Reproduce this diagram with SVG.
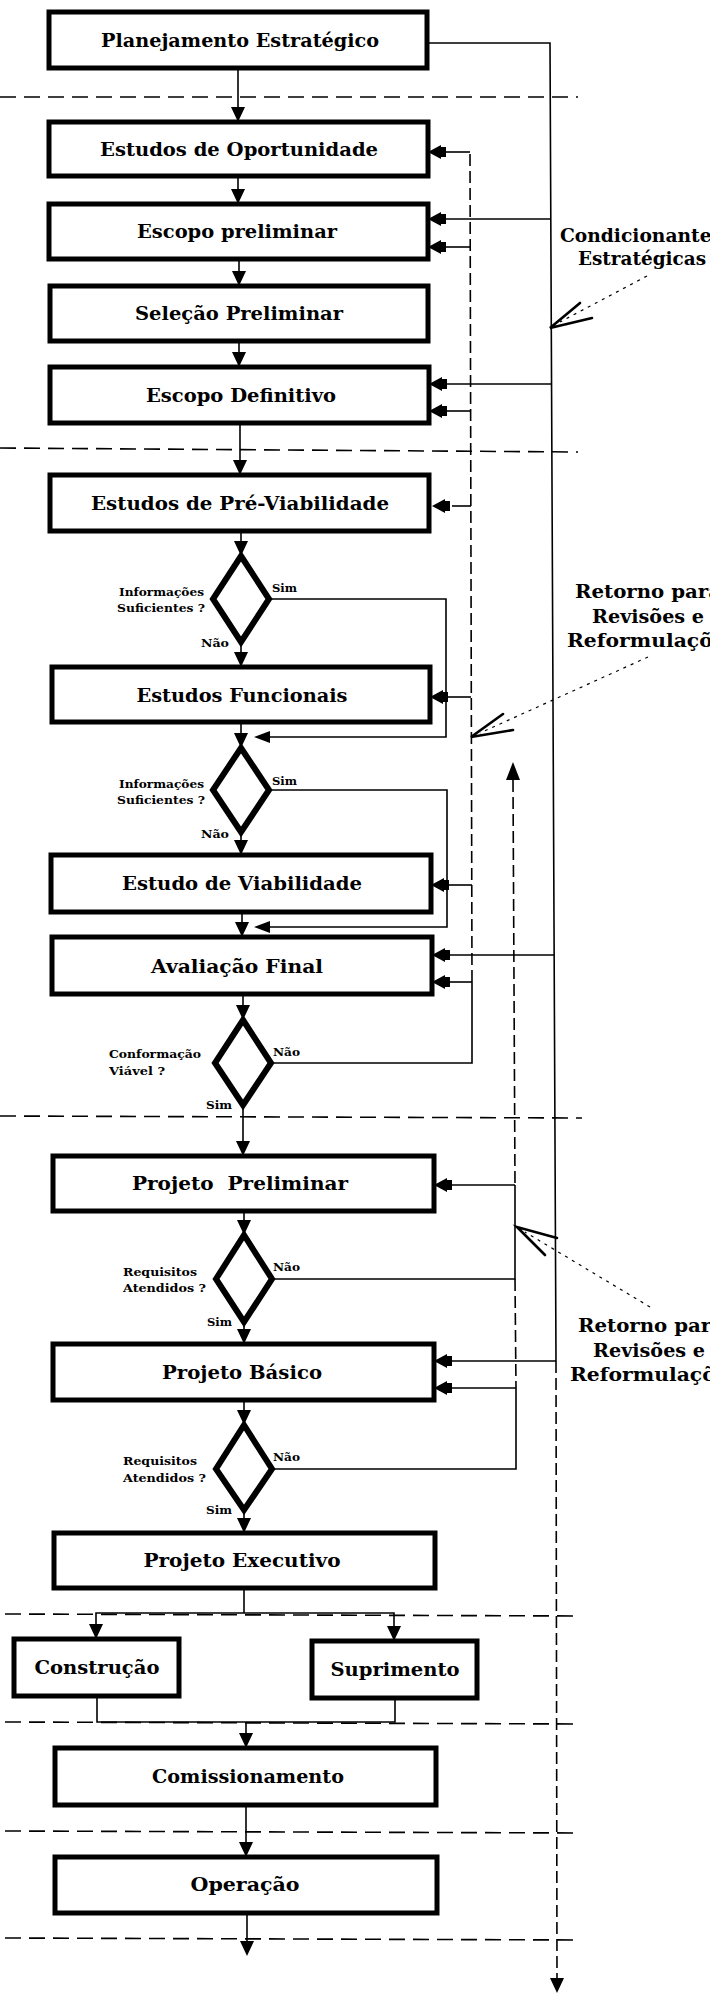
<svg xmlns="http://www.w3.org/2000/svg" xmlns:xlink="http://www.w3.org/1999/xlink" width="710" height="1994" viewBox="0 0 710 1994">
  <style>
    .box { fill: #fff; stroke: #000; stroke-width: 5; }
    .dia { fill: #fff; stroke: #000; stroke-width: 6; stroke-linejoin: miter; }
    .lbl { font-family: "DejaVu Serif", "Liberation Serif", serif; font-weight: bold; font-size: 18px; fill: #000; text-anchor: middle; }
    .sm { font-family: "DejaVu Serif", "Liberation Serif", serif; font-weight: bold; font-size: 11px; fill: #000; }
    .note { font-family: "DejaVu Serif", "Liberation Serif", serif; font-weight: bold; font-size: 19px; fill: #000; }
    .ln { fill: none; stroke: #000; stroke-width: 1.6; }
    .dl { fill: none; stroke: #000; stroke-width: 1.6; stroke-dasharray: 12 5; }
    .sep { fill: none; stroke: #000; stroke-width: 1.6; stroke-dasharray: 16 8; }
    .dot { fill: none; stroke: #000; stroke-width: 1.2; stroke-dasharray: 3 5; }
    .open { fill: none; stroke: #000; stroke-width: 2.6; stroke-linecap: round; }
  </style>
  <defs>
    <!-- arrowhead entering a box from the right -->
    <path id="ahL" d="M0,0 L13,-7 L13,7 Z M12,-5 h6 v10 h-6 Z" fill="#000"/>
    <!-- plain left arrowhead -->
    <path id="ahl" d="M0,0 L16,-6 L16,6 Z" fill="#000"/>
    <!-- downward arrowhead -->
    <path id="ahD" d="M0,0 L-7,-15 L7,-15 Z" fill="#000"/>
    <!-- upward arrowhead -->
    <path id="ahU" d="M0,0 L-7,18 L7,18 Z" fill="#000"/>
  </defs>

  <rect width="710" height="1994" fill="#fff"/>

  <!-- phase separators -->
  <g id="separators">
    <line class="sep" x1="0" y1="97" x2="578" y2="97"/>
    <line class="sep" x1="0" y1="448" x2="578" y2="452"/>
    <line class="sep" x1="0" y1="1116" x2="582" y2="1118"/>
    <line class="sep" x1="5" y1="1614" x2="580" y2="1616"/>
    <line class="sep" x1="5" y1="1722" x2="580" y2="1724"/>
    <line class="sep" x1="5" y1="1831" x2="580" y2="1833"/>
    <line class="sep" x1="5" y1="1938" x2="580" y2="1940"/>
  </g>

  <g id="connectors">
    <!-- main flow -->
    <line class="ln" x1="238" y1="68" x2="238" y2="110"/>
    <use href="#ahD" x="238" y="122"/>
    <line class="ln" x1="238" y1="176" x2="238" y2="192"/>
    <use href="#ahD" x="238" y="204"/>
    <line class="ln" x1="239" y1="259" x2="239" y2="274"/>
    <use href="#ahD" x="239" y="286"/>
    <line class="ln" x1="239" y1="341" x2="239" y2="355"/>
    <use href="#ahD" x="239" y="367"/>
    <line class="ln" x1="240" y1="423" x2="240" y2="463"/>
    <use href="#ahD" x="240" y="475"/>
    <line class="ln" x1="241" y1="531" x2="241" y2="545"/>
    <use href="#ahD" x="241" y="556"/>
    <line class="ln" x1="241" y1="642" x2="241" y2="655"/>
    <use href="#ahD" x="241" y="667"/>
    <line class="ln" x1="241" y1="722" x2="241" y2="737"/>
    <use href="#ahD" x="241" y="748"/>
    <line class="ln" x1="241" y1="832" x2="241" y2="843"/>
    <use href="#ahD" x="241" y="855"/>
    <line class="ln" x1="242" y1="912" x2="242" y2="925"/>
    <use href="#ahD" x="242" y="937"/>
    <line class="ln" x1="243" y1="994" x2="243" y2="1009"/>
    <use href="#ahD" x="243" y="1020"/>
    <line class="ln" x1="243" y1="1105" x2="243" y2="1144"/>
    <use href="#ahD" x="243" y="1156"/>
    <line class="ln" x1="244" y1="1211" x2="244" y2="1224"/>
    <use href="#ahD" x="244" y="1235"/>
    <line class="ln" x1="244" y1="1322" x2="244" y2="1332"/>
    <use href="#ahD" x="244" y="1344"/>
    <line class="ln" x1="244" y1="1400" x2="244" y2="1414"/>
    <use href="#ahD" x="244" y="1425"/>
    <line class="ln" x1="244" y1="1510" x2="244" y2="1521"/>
    <use href="#ahD" x="244" y="1533"/>
    <!-- split to construction and supply -->
    <polyline class="ln" points="244,1588 244,1613"/>
    <polyline class="ln" points="96,1627 96,1613 394,1613 394,1629"/>
    <use href="#ahD" x="96" y="1639"/>
    <use href="#ahD" x="394" y="1641"/>
    <!-- join to commissioning -->
    <polyline class="ln" points="97,1696 97,1722 395,1722 395,1698"/>
    <line class="ln" x1="246" y1="1722" x2="246" y2="1736"/>
    <use href="#ahD" x="246" y="1748"/>
    <line class="ln" x1="246" y1="1805" x2="246" y2="1845"/>
    <use href="#ahD" x="246" y="1857"/>
    <line class="ln" x1="247" y1="1913" x2="247" y2="1942"/>
    <use href="#ahD" x="247" y="1956"/>

    <!-- decision 1 "Sim" bypass -->
    <polyline class="ln" points="270,599 446,599 446,737 268,737"/>
    <use href="#ahl" x="254" y="737"/>
    <!-- decision 2 "Sim" bypass -->
    <polyline class="ln" points="270,790 447,790 447,927 268,927"/>
    <use href="#ahl" x="254" y="927"/>

    <!-- strategic constraints line -->
    <polyline class="ln" points="427,43 550,43 556,1361"/>
    <line class="dl" x1="556" y1="1361" x2="557" y2="1978"/>
    <use href="#ahD" x="557" y="1993"/>
    <line class="ln" x1="446" y1="219" x2="551" y2="219"/>
    <use href="#ahL" x="428" y="219"/>
    <line class="ln" x1="447" y1="384" x2="551" y2="384"/>
    <use href="#ahL" x="429" y="384"/>
    <line class="ln" x1="450" y1="955" x2="554" y2="955"/>
    <use href="#ahL" x="432" y="955"/>
    <line class="ln" x1="452" y1="1361" x2="556" y2="1361"/>
    <use href="#ahL" x="434" y="1361"/>

    <!-- return loop, study phases -->
    <polyline class="ln" points="272,1063 472,1063 472,982"/>
    <line class="dl" x1="472" y1="982" x2="470" y2="152"/>
    <line class="ln" x1="446" y1="152" x2="470" y2="152"/>
    <use href="#ahL" x="428" y="152"/>
    <line class="ln" x1="446" y1="247" x2="470" y2="247"/>
    <use href="#ahL" x="428" y="247"/>
    <line class="ln" x1="447" y1="411" x2="470" y2="411"/>
    <use href="#ahL" x="429" y="411"/>
    <line class="ln" x1="452" y1="506" x2="471" y2="506"/>
    <use href="#ahL" x="432" y="506"/>
    <line class="ln" x1="448" y1="697" x2="471" y2="697"/>
    <use href="#ahL" x="430" y="697"/>
    <line class="ln" x1="449" y1="885" x2="472" y2="885"/>
    <use href="#ahL" x="431" y="885"/>
    <line class="ln" x1="450" y1="982" x2="472" y2="982"/>
    <use href="#ahL" x="432" y="982"/>

    <!-- return loop, design phases -->
    <use href="#ahU" x="513" y="762"/>
    <line class="dl" x1="513" y1="780" x2="515" y2="1185"/>
    <polyline class="ln" points="515,1185 515,1279 273,1279"/>
    <line class="ln" x1="452" y1="1185" x2="515" y2="1185"/>
    <use href="#ahL" x="434" y="1185"/>
    <line class="dl" x1="515" y1="1279" x2="516" y2="1388"/>
    <polyline class="ln" points="516,1388 516,1469 273,1469"/>
    <line class="ln" x1="452" y1="1388" x2="516" y2="1388"/>
    <use href="#ahL" x="434" y="1388"/>
  </g>

  <g id="pointers">
    <!-- Condicionantes pointer -->
    <line class="dot" x1="647" y1="276" x2="560" y2="322"/>
    <polyline class="open" points="580,303 550,328 592,318"/>
    <!-- upper return pointer -->
    <line class="dot" x1="648" y1="657" x2="480" y2="733"/>
    <polyline class="open" points="503,714 471,737 513,730"/>
    <!-- lower return pointer -->
    <line class="dot" x1="650" y1="1307" x2="525" y2="1232"/>
    <polyline class="open" points="557,1238 517,1227 545,1255"/>
  </g>

  <g id="n-planejamento">
    <rect class="box" x="49" y="12" width="378" height="56"/>
    <text class="lbl" x="240" y="47" textLength="278" lengthAdjust="spacingAndGlyphs">Planejamento Estratégico</text>
  </g>
  <g id="n-oportunidade">
    <rect class="box" x="49" y="122" width="379" height="54"/>
    <text class="lbl" x="239" y="156" textLength="278" lengthAdjust="spacingAndGlyphs">Estudos de Oportunidade</text>
  </g>
  <g id="n-escopo-preliminar">
    <rect class="box" x="49" y="204" width="379" height="55"/>
    <text class="lbl" x="237" y="238" textLength="200" lengthAdjust="spacingAndGlyphs">Escopo preliminar</text>
  </g>
  <g id="n-selecao">
    <rect class="box" x="50" y="286" width="378" height="55"/>
    <text class="lbl" x="239" y="320" textLength="208" lengthAdjust="spacingAndGlyphs">Seleção Preliminar</text>
  </g>
  <g id="n-escopo-definitivo">
    <rect class="box" x="50" y="367" width="379" height="56"/>
    <text class="lbl" x="241" y="402" textLength="190" lengthAdjust="spacingAndGlyphs">Escopo Definitivo</text>
  </g>
  <g id="n-pre-viabilidade">
    <rect class="box" x="50" y="475" width="379" height="56"/>
    <text class="lbl" x="240" y="510" textLength="298" lengthAdjust="spacingAndGlyphs">Estudos de Pré-Viabilidade</text>
  </g>
  <g id="d-informacoes-1">
    <polygon class="dia" points="241,556 269,599 241,642 213,599"/>
    <text class="sm" x="119" y="596" textLength="85" lengthAdjust="spacingAndGlyphs">Informações</text>
    <text class="sm" x="117" y="612" textLength="88" lengthAdjust="spacingAndGlyphs">Suficientes ?</text>
    <text class="sm" x="272" y="592" textLength="25" lengthAdjust="spacingAndGlyphs">Sim</text>
    <text class="sm" x="201" y="647" textLength="28" lengthAdjust="spacingAndGlyphs">Não</text>
  </g>
  <g id="n-funcionais">
    <rect class="box" x="52" y="667" width="378" height="55"/>
    <text class="lbl" x="242" y="702" textLength="211" lengthAdjust="spacingAndGlyphs">Estudos Funcionais</text>
  </g>
  <g id="d-informacoes-2">
    <polygon class="dia" points="241,748 269,790 241,832 213,790"/>
    <text class="sm" x="119" y="788" textLength="85" lengthAdjust="spacingAndGlyphs">Informações</text>
    <text class="sm" x="117" y="804" textLength="88" lengthAdjust="spacingAndGlyphs">Suficientes ?</text>
    <text class="sm" x="272" y="785" textLength="25" lengthAdjust="spacingAndGlyphs">Sim</text>
    <text class="sm" x="201" y="838" textLength="28" lengthAdjust="spacingAndGlyphs">Não</text>
  </g>
  <g id="n-viabilidade">
    <rect class="box" x="51" y="855" width="380" height="57"/>
    <text class="lbl" x="242" y="890" textLength="240" lengthAdjust="spacingAndGlyphs">Estudo de Viabilidade</text>
  </g>
  <g id="n-avaliacao">
    <rect class="box" x="52" y="937" width="380" height="57"/>
    <text class="lbl" x="237" y="973" textLength="172" lengthAdjust="spacingAndGlyphs">Avaliação Final</text>
  </g>
  <g id="d-conformacao">
    <polygon class="dia" points="243,1020 271,1063 243,1105 215,1063"/>
    <text class="sm" x="109" y="1058" textLength="92" lengthAdjust="spacingAndGlyphs">Conformação</text>
    <text class="sm" x="109" y="1075" textLength="56" lengthAdjust="spacingAndGlyphs">Viável ?</text>
    <text class="sm" x="273" y="1056" textLength="27" lengthAdjust="spacingAndGlyphs">Não</text>
    <text class="sm" x="206" y="1109" textLength="26" lengthAdjust="spacingAndGlyphs">Sim</text>
  </g>
  <g id="n-projeto-preliminar">
    <rect class="box" x="53" y="1156" width="381" height="55"/>
    <text class="lbl" x="240" y="1190" textLength="216" lengthAdjust="spacingAndGlyphs" xml:space="preserve">Projeto  Preliminar</text>
  </g>
  <g id="d-requisitos-1">
    <polygon class="dia" points="244,1235 272,1279 244,1322 216,1279"/>
    <text class="sm" x="123" y="1276" textLength="74" lengthAdjust="spacingAndGlyphs">Requisitos</text>
    <text class="sm" x="123" y="1292" textLength="83" lengthAdjust="spacingAndGlyphs">Atendidos ?</text>
    <text class="sm" x="273" y="1271" textLength="27" lengthAdjust="spacingAndGlyphs">Não</text>
    <text class="sm" x="207" y="1326" textLength="25" lengthAdjust="spacingAndGlyphs">Sim</text>
  </g>
  <g id="n-projeto-basico">
    <rect class="box" x="53" y="1344" width="381" height="56"/>
    <text class="lbl" x="242" y="1379" textLength="160" lengthAdjust="spacingAndGlyphs">Projeto Básico</text>
  </g>
  <g id="d-requisitos-2">
    <polygon class="dia" points="244,1425 272,1469 244,1510 216,1469"/>
    <text class="sm" x="123" y="1465" textLength="74" lengthAdjust="spacingAndGlyphs">Requisitos</text>
    <text class="sm" x="123" y="1482" textLength="83" lengthAdjust="spacingAndGlyphs">Atendidos ?</text>
    <text class="sm" x="273" y="1461" textLength="27" lengthAdjust="spacingAndGlyphs">Não</text>
    <text class="sm" x="206" y="1514" textLength="26" lengthAdjust="spacingAndGlyphs">Sim</text>
  </g>
  <g id="n-projeto-executivo">
    <rect class="box" x="54" y="1533" width="381" height="55"/>
    <text class="lbl" x="242" y="1567" textLength="197" lengthAdjust="spacingAndGlyphs">Projeto Executivo</text>
  </g>
  <g id="n-construcao">
    <rect class="box" x="14" y="1639" width="165" height="57"/>
    <text class="lbl" x="97" y="1674" textLength="125" lengthAdjust="spacingAndGlyphs">Construção</text>
  </g>
  <g id="n-suprimento">
    <rect class="box" x="312" y="1641" width="165" height="57"/>
    <text class="lbl" x="395" y="1676" textLength="129" lengthAdjust="spacingAndGlyphs">Suprimento</text>
  </g>
  <g id="n-comissionamento">
    <rect class="box" x="55" y="1748" width="381" height="57"/>
    <text class="lbl" x="248" y="1783" textLength="192" lengthAdjust="spacingAndGlyphs">Comissionamento</text>
  </g>
  <g id="n-operacao">
    <rect class="box" x="55" y="1857" width="382" height="56"/>
    <text class="lbl" x="245" y="1891" textLength="109" lengthAdjust="spacingAndGlyphs">Operação</text>
  </g>

  <g id="t-condicionantes">
    <text class="note" x="560" y="242" textLength="162" lengthAdjust="spacingAndGlyphs">Condicionantes</text>
    <text class="note" x="578" y="265" textLength="128" lengthAdjust="spacingAndGlyphs">Estratégicas</text>
  </g>
  <g id="t-retorno-1">
    <text class="note" x="575" y="598" textLength="146" lengthAdjust="spacingAndGlyphs">Retorno para</text>
    <text class="note" x="592" y="623" textLength="112" lengthAdjust="spacingAndGlyphs">Revisões e</text>
    <text class="note" x="567" y="647" textLength="170" lengthAdjust="spacingAndGlyphs">Reformulações</text>
  </g>
  <g id="t-retorno-2">
    <text class="note" x="578" y="1332" textLength="146" lengthAdjust="spacingAndGlyphs">Retorno para</text>
    <text class="note" x="593" y="1357" textLength="112" lengthAdjust="spacingAndGlyphs">Revisões e</text>
    <text class="note" x="570" y="1381" textLength="170" lengthAdjust="spacingAndGlyphs">Reformulações</text>
  </g>
</svg>
